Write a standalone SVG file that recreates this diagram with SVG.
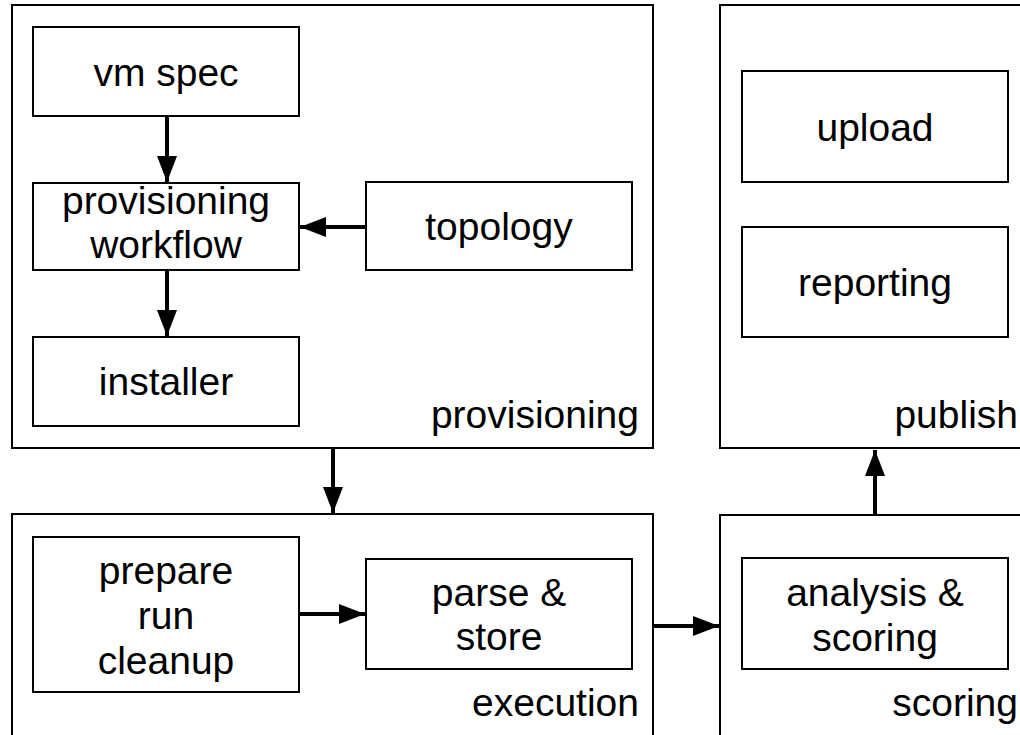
<svg xmlns="http://www.w3.org/2000/svg" width="1020" height="735" viewBox="0 0 1020 735">
<defs>
<marker id="ah" viewBox="0 0 10 10" refX="10" refY="5" markerWidth="6.5" markerHeight="5" markerUnits="strokeWidth" orient="auto" preserveAspectRatio="none">
<path d="M0,0 L10,5 L0,10 z" fill="#000"/>
</marker>
<style>
.c{fill:#fff;stroke:#000;stroke-width:2}
.b{fill:#fff;stroke:#000;stroke-width:2}
text{font-family:"Liberation Sans",Arial,sans-serif;font-size:39px;fill:#000}
.m{text-anchor:middle}
.r{text-anchor:end}
.a{stroke:#000;stroke-width:4;fill:none;marker-end:url(#ah)}
</style>
</defs>
<rect width="1020" height="735" fill="#fff"/>
<g id="provisioning">
<rect class="c" x="12" y="5" width="641" height="443"/>
<text class="r" x="639" y="428">provisioning</text>
</g>
<g id="publish">
<rect class="c" x="720" y="5" width="310" height="443"/>
<text class="r" x="1018" y="428">publish</text>
</g>
<g id="execution">
<rect class="c" x="12" y="514" width="641" height="230"/>
<text class="r" x="639" y="716">execution</text>
</g>
<g id="scoring">
<rect class="c" x="720" y="515" width="310" height="230"/>
<text class="r" x="1018" y="716">scoring</text>
</g>
<g id="vmspec">
<rect class="b" x="33" y="27" width="266" height="89"/>
<text class="m" x="166" y="86">vm spec</text>
</g>
<g id="workflow">
<rect class="b" x="33" y="183" width="266" height="87"/>
<text class="m" x="166" y="214">provisioning</text>
<text class="m" x="166" y="258">workflow</text>
</g>
<g id="topology">
<rect class="b" x="366" y="182" width="266" height="88"/>
<text class="m" x="499" y="240">topology</text>
</g>
<g id="installer">
<rect class="b" x="33" y="337" width="266" height="89"/>
<text class="m" x="166" y="395">installer</text>
</g>
<g id="upload">
<rect class="b" x="742" y="71" width="266" height="111"/>
<text class="m" x="875" y="141">upload</text>
</g>
<g id="reporting">
<rect class="b" x="742" y="227" width="266" height="110"/>
<text class="m" x="875" y="296">reporting</text>
</g>
<g id="prepare">
<rect class="b" x="33" y="537" width="266" height="155"/>
<text class="m" x="166" y="584">prepare</text>
<text class="m" x="166" y="629">run</text>
<text class="m" x="166" y="674">cleanup</text>
</g>
<g id="parse">
<rect class="b" x="366" y="559" width="266" height="110"/>
<text class="m" x="499" y="606">parse &amp;</text>
<text class="m" x="499" y="650">store</text>
</g>
<g id="analysis">
<rect class="b" x="742" y="558" width="266" height="111"/>
<text class="m" x="875" y="606">analysis &amp;</text>
<text class="m" x="875" y="651">scoring</text>
</g>
<g id="connectors">
<line class="a" x1="167" y1="116" x2="167" y2="182"/>
<line class="a" x1="366" y1="227" x2="300" y2="227"/>
<line class="a" x1="167" y1="270" x2="167" y2="336"/>
<line class="a" x1="333" y1="448" x2="333" y2="513"/>
<line class="a" x1="299" y1="614" x2="365" y2="614"/>
<line class="a" x1="653" y1="626" x2="719" y2="626"/>
<line class="a" x1="875" y1="515" x2="875" y2="450"/>
</g>
</svg>
